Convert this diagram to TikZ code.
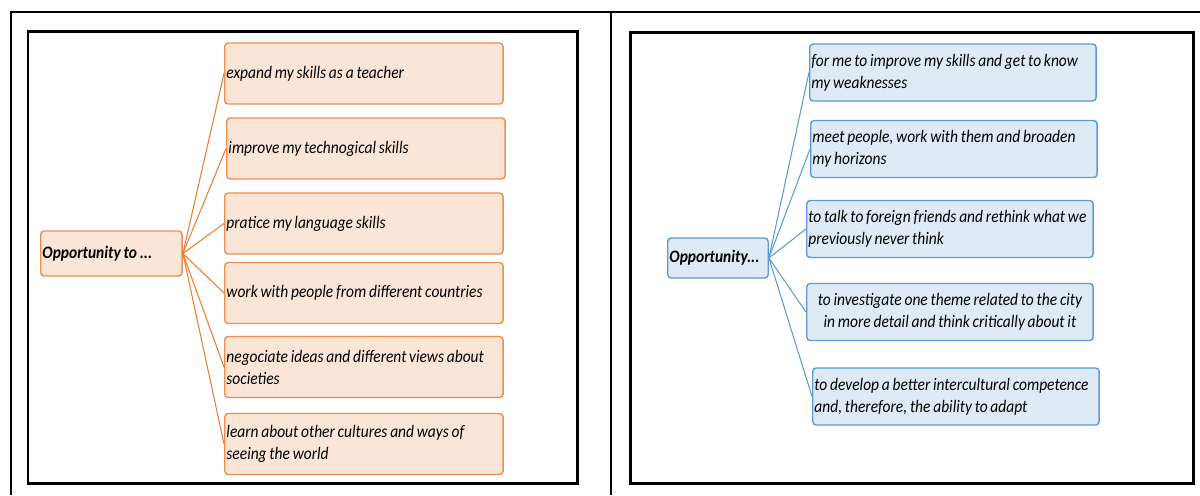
\documentclass[tikz,border=0pt]{standalone}
\usepackage{fontspec}
\setmainfont{Carlito}[FakeStretch=0.88]
\usepackage{tikz}

\definecolor{orfill}{HTML}{FBE5D6}
\definecolor{orline}{HTML}{EE8E4E}
\definecolor{orlink}{HTML}{ED7D31}
\definecolor{blfill}{HTML}{DEEBF7}
\definecolor{blline}{HTML}{5B9BD5}

% tight word spacing, no hyphens
\newcommand\tightfont{\fontsize{10}{12.5}\selectfont\spaceskip=1.6pt plus 1pt minus 0.3pt\hyphenpenalty=10000}

\tikzset{
  hub/.style={font=\tightfont\bfseries\itshape, rectangle, rounded corners=2pt,
    line width=0.8pt, inner xsep=1pt, align=flush left, anchor=west},
  idea/.style={font=\tightfont\itshape, rectangle, rounded corners=2pt, line width=0.8pt,
    inner xsep=1pt, align=flush left, anchor=west},
  orhub/.style={hub, draw=orline, fill=orfill, text width=2.76cm, minimum height=0.9cm},
  oridea/.style={idea, draw=orline, fill=orfill, text width=5.5cm, minimum height=1.22cm},
  blhub/.style={hub, draw=blline, fill=blfill, text width=1.94cm, minimum height=0.8cm},
  blidea/.style={idea, draw=blline, fill=blfill, text width=5.66cm, minimum height=1.14cm},
  orlinkline/.style={orlink, line width=0.6pt},
  bllinkline/.style={blline, line width=0.6pt},
  frame/.style={line width=1.7pt, black}
}

\begin{document}
\begin{tikzpicture}[x=0.02cm,y=-0.02cm]
\useasboundingbox (0,0) rectangle (1200,495);

% table rules
\draw[line width=0.7pt] (11,495) -- (11,12) -- (1200,12);
\draw[line width=0.7pt] (611,12) -- (611,495);

% frames
\draw[frame] (28,31) rectangle (577,483);
\draw[frame] (630,32) rectangle (1193,483);

% left mind map
\node[orhub] (opp) at (40,253.5) {Opportunity to ...};
\node[oridea] (teacher) at (224,73.5) {expand my skills as a teacher};
\node[oridea] (tech) at (226,148.5) {improve my technogical skills};
\node[oridea] (lang) at (224,223.5) {pratice my language skills};
\node[oridea] (people) at (224,293) {work with people from different countries};
\node[oridea] (ideas) at (224,367) {negociate ideas and different views about\\societies};
\node[oridea] (cult) at (224,444) {learn about other cultures and ways of\\seeing the world};

\foreach \n in {teacher,tech,lang,people,ideas,cult}
  \draw[orlinkline] (opp.east) -- (\n.west);

% right mind map
\node[blhub] (oppb) at (667,258) {Opportunity...};
\node[blidea] (weak) at (809,72.5) {for me to improve my skills and get to know\\my weaknesses};
\node[blidea] (meet) at (810,149) {meet people, work with them and broaden\\my horizons};
\node[blidea] (talk) at (806,229) {to talk to foreign friends and rethink what we\\previously never think};
\node[blidea, align=flush center] (city) at (806,312) {to investigate one theme related to the city\\in more detail and think critically about it};
\node[blidea] (adapt) at (812,396.5) {to develop a better intercultural competence\\and, therefore, the ability to adapt};

\foreach \n in {weak,meet,talk,city,adapt}
  \draw[bllinkline] (oppb.east) -- (\n.west);

\end{tikzpicture}
\end{document}
